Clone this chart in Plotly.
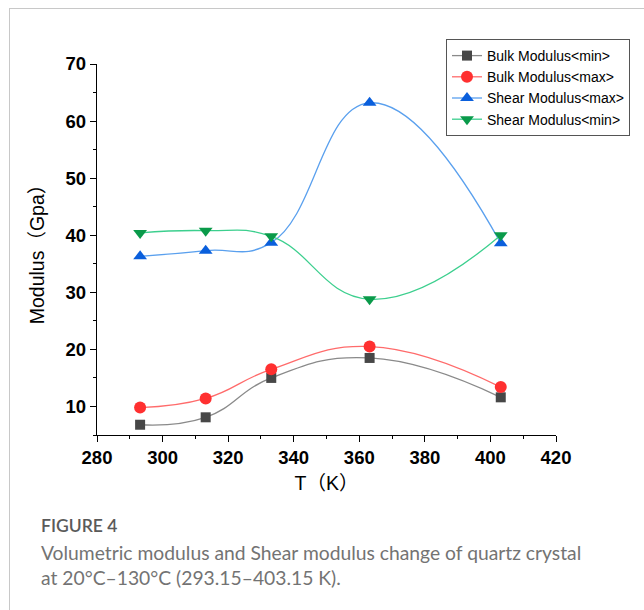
import plotly.graph_objects as go

# Temperature points (K) and modulus values (GPa)
temperature = [293.15, 313.15, 333.15, 363.15, 403.15]
bulk_min = [6.8, 8.1, 15.0, 18.5, 11.6]
bulk_max = [9.8, 11.4, 16.5, 20.5, 13.4]
shear_max = [36.3, 37.3, 38.7, 63.2, 38.6]
shear_min = [40.4, 40.8, 39.8, 28.8, 40.0]

series_names = ["Bulk Modulus<min>", "Bulk Modulus<max>",
                "Shear Modulus<max>", "Shear Modulus<min>"]

x_ticks = [280, 300, 320, 340, 360, 380, 400, 420]
y_ticks = [10, 20, 30, 40, 50, 60, 70]

caption_title = "FIGURE 4"
caption_line1 = "Volumetric modulus and Shear modulus change of quartz crystal"
caption_line2 = "at 20°C–130°C (293.15–403.15 K)."

W, H = 644, 610
L, R, T, B = 97, 88, 64, 175
pw, ph = W - L - R, H - T - B


def px(xp):
    return (xp - L) / pw


def py(yp):
    return (H - B - yp) / ph


styles = [
    dict(symbol="square", size=10, mc="#474747", lc="#8a8a8a"),
    dict(symbol="circle", size=12, mc="#ff3030", lc="#ff6b6b"),
    dict(symbol="triangle-up", size=12, mc="#0a5fdc", lc="#5aa0ee"),
    dict(symbol="triangle-down", size=12, mc="#0a9a4a", lc="#3ccf8e"),
]

fig = go.Figure()
for name, ys, st in zip(series_names, [bulk_min, bulk_max, shear_max, shear_min], styles):
    fig.add_trace(go.Scatter(
        x=temperature, y=ys, name=name, mode="lines+markers",
        line=dict(color=st["lc"], width=1.3, shape="spline", smoothing=1.3),
        marker=dict(symbol=st["symbol"], size=st["size"], color=st["mc"],
                    line=dict(width=0)),
    ))

tick_font = dict(family="Liberation Sans, Arial, sans-serif", size=18.5, color="black")
title_font = dict(family="Liberation Sans, Noto Sans CJK SC, sans-serif",
                  size=19.5, color="black")

fig.update_xaxes(
    range=[280, 420], tickvals=x_ticks, ticktext=[f"<b>{v}</b>" for v in x_ticks],
    showline=True, linecolor="black",
    linewidth=1.3, ticks="outside", ticklen=6, tickwidth=1.3, tickcolor="black",
    minor=dict(dtick=10, ticks="outside", ticklen=3, tickwidth=1.2, tickcolor="black"),
    showgrid=False, zeroline=False, tickfont=tick_font,
    title=dict(text="T（K）", font=title_font, standoff=9),
)
fig.update_yaxes(
    range=[5, 70], tickvals=y_ticks, ticktext=[f"<b>{v}</b>" for v in y_ticks],
    showline=True, linecolor="black",
    linewidth=1.3, ticks="outside", ticklen=6, tickwidth=1.3, tickcolor="black",
    minor=dict(dtick=5, ticks="outside", ticklen=3, tickwidth=1.2, tickcolor="black"),
    showgrid=False, zeroline=False, tickfont=tick_font,
    title=dict(text="Modulus（Gpa）", font=title_font, standoff=15),
)

# Page frame lines (top and left edges)
frame = dict(color="#c8c8c8", width=1)
fig.add_shape(type="line", xref="paper", yref="paper",
              x0=px(9), x1=px(W), y0=py(8.5), y1=py(8.5), line=frame)
fig.add_shape(type="line", xref="paper", yref="paper",
              x0=px(9.5), x1=px(9.5), y0=py(8), y1=py(H), line=frame)

cap_font = dict(family="Lato, Open Sans, sans-serif", size=19.3, color="#737373")
fig.add_annotation(xref="paper", yref="paper", x=px(39), y=py(525),
                   xanchor="left", yanchor="middle", showarrow=False,
                   text=caption_title,
                   font=dict(family="Lato, Open Sans, sans-serif", size=17.5,
                             color="#5a5a5a", weight=600))
for i, line in enumerate([caption_line1, caption_line2]):
    fig.add_annotation(xref="paper", yref="paper", x=px(39), y=py(552 + 25 * i),
                       xanchor="left", yanchor="middle", showarrow=False,
                       text=line, font=cap_font)

fig.update_layout(
    width=W, height=H, autosize=False,
    margin=dict(l=L, r=R, t=T, b=B),
    paper_bgcolor="white", plot_bgcolor="white",
    showlegend=True,
    legend=dict(x=px(446), y=py(39), xanchor="left", yanchor="top",
                bordercolor="#555555", borderwidth=1, bgcolor="white",
                font=dict(family="Liberation Sans, Arial, sans-serif", size=14, color="black"),
                itemwidth=30, tracegroupgap=0),
)

fig.write_html("out.html")
